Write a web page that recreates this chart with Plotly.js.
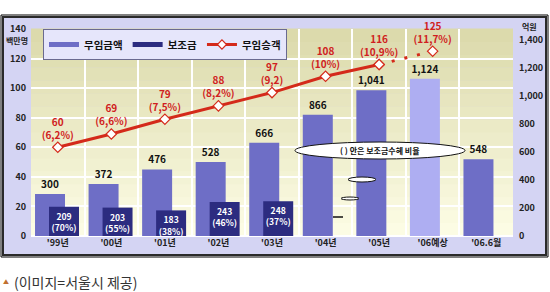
<!DOCTYPE html>
<html>
<head>
<meta charset="utf-8">
<script src="https://cdn.plot.ly/plotly-3.0.1.min.js"></script>
<style>
html,body{margin:0;padding:0;background:#fff;}
#chart{width:550px;height:292px;}
</style>
</head>
<body>
<div id="chart"></div>
<script>
// ---- data ----
const categories = ["'99년", "'00년", "'01년", "'02년", "'03년", "'04년", "'05년", "'06예상", "'06.6월"];
const fareAmount = [300, 372, 476, 528, 666, 866, 1041, 1124, 548];            // 무임금액 (억원)
const fareLabels = ["300", "372", "476", "528", "666", "866", "1,041", "1,124", "548"];
const subsidyCats = ["'99년", "'00년", "'01년", "'02년", "'03년"];
const subsidy = [209, 203, 183, 243, 248];                                     // 보조금 (억원)
const subsidyRatio = ["70%", "55%", "38%", "46%", "37%"];
const passengers = [60, 69, 79, 88, 97, 108, 116, 125];                        // 무임승객 (백만명)
const passengerShare = ["6,2%", "6,6%", "7,5%", "8,2%", "9,2", "10%", "10,9%", "11,7%"];
const leftTicks = [0, 20, 40, 60, 80, 100, 120, 140];
const rightTicks = [0, 200, 400, 600, 800, 1000, 1200, 1400];

// ---- pixel helpers (layout geometry only) ----
const W = 550, H = 292, ML = 31, MR = 37, MT = 29, MB = 56;
const PW = W - ML - MR, PH = H - MT - MB;
const xp = px => (px - ML) / PW;
const yp = py => (H - MB - py) / PH;

const FONT = '"Noto Sans CJK KR", "Liberation Sans", sans-serif';

const nSolid = 7;
const solidCats = categories.slice(0, nSolid);
const solidVals = passengers.slice(0, nSolid);
const solidText = solidVals.map((v, i) => v + '<br>(' + passengerShare[i] + ')');
const dashCats = categories.slice(nSolid - 1, passengers.length);
const dashVals = passengers.slice(nSolid - 1);
const dashText = dashVals.map((v, i) => i === 0 ? '' : v + '<br>(' + passengerShare[nSolid - 1 + i] + ')');

const LIGHT = '#6e6ec6', LIGHT2 = '#aeaef2', DARK = '#2c2c80', RED = '#d42a1a';
const lightColors = categories.map(c => c === "'06예상" ? LIGHT2 : LIGHT);

const traces = [
  {
    type: 'bar', name: '무임금액', x: categories, y: fareAmount, yaxis: 'y2', showlegend: false,
    width: 0.56, offset: -0.425,
    marker: {color: lightColors, line: {width: 0}},
    text: fareLabels, textposition: 'outside', cliponaxis: false,
    textfont: {family: FONT, size: 10, color: '#111', weight: 'bold'},
    hoverinfo: 'skip'
  },
  {
    type: 'bar', name: '보조금', x: subsidyCats, y: subsidy, yaxis: 'y2', showlegend: false,
    width: 0.56, offset: -0.164,
    marker: {color: DARK, line: {width: 0}},
    text: subsidy.map((v, i) => v + '<br>(' + subsidyRatio[i] + ')'),
    textposition: 'inside', insidetextanchor: 'end', constraintext: 'none', textangle: 0,
    textfont: {family: FONT, size: 8.6, color: '#ffffff', weight: 'bold'},
    hoverinfo: 'skip'
  },
  {
    type: 'scatter', name: '무임승객 예상', x: dashCats, y: dashVals, yaxis: 'y', showlegend: false,
    mode: 'lines+markers+text',
    line: {color: RED, width: 3, dash: '3px,10px'},
    marker: {symbol: 'diamond', size: 8, color: '#ffffff', line: {color: RED, width: 1.2}},
    text: dashText, textposition: 'top center', cliponaxis: false,
    textfont: {family: FONT, size: 10, color: '#d02020', weight: 'bold'},
    hoverinfo: 'skip'
  },
  {
    type: 'scatter', name: '무임승객', x: solidCats, y: solidVals, yaxis: 'y', showlegend: false,
    mode: 'lines+markers+text',
    line: {color: RED, width: 3},
    marker: {symbol: 'diamond', size: 8, color: '#ffffff', line: {color: RED, width: 1.2}},
    text: solidText, textposition: 'top center', cliponaxis: false,
    textfont: {family: FONT, size: 10, color: '#d02020', weight: 'bold'},
    hoverinfo: 'skip'
  },
  // legend-only entries (bar-style swatches as in the reference)
  {type: 'scatter', name: '무임금액', x: [null], y: [null], mode: 'lines', line: {color: LIGHT, width: 5}, hoverinfo: 'skip'},
  {type: 'scatter', name: '보조금', x: [null], y: [null], mode: 'lines', line: {color: DARK, width: 5}, hoverinfo: 'skip'},
  {type: 'scatter', name: '무임승객', x: [null], y: [null], mode: 'lines+markers', line: {color: RED, width: 3},
   marker: {symbol: 'diamond', size: 7, color: '#ffffff', line: {color: RED, width: 1.2}}, hoverinfo: 'skip'}
];

// ---- background shapes ----
const shapes = [];
shapes.push({type: 'rect', xref: 'paper', yref: 'paper', layer: 'below',
  x0: xp(1), x1: xp(548), y0: yp(257), y1: yp(15),
  line: {color: '#000', width: 1}, fillcolor: 'rgba(0,0,0,0)'});
shapes.push({type: 'rect', xref: 'paper', yref: 'paper', layer: 'below',
  x0: xp(3), x1: xp(546), y0: yp(255), y1: yp(17),
  line: {color: '#2a2a2a', width: 2}, fillcolor: '#d4d4f3'});
const N = 16;
const c0 = [252, 252, 228], c1 = [220, 218, 172];
for (let i = 0; i < N; i++) {
  const t = i / (N - 1);
  const c = c0.map((a, k) => Math.round(a + (c1[k] - a) * t));
  shapes.push({type: 'rect', xref: 'paper', yref: 'paper', layer: 'below',
    x0: 0, x1: 1, y0: i / N, y1: (i + 1) / N + 0.002,
    line: {width: 0}, fillcolor: 'rgb(' + c.join(',') + ')'});
}
shapes.push({type: 'circle', xref: 'paper', yref: 'paper', layer: 'above',
  x0: xp(295), x1: xp(465), y0: yp(159), y1: yp(142),
  line: {color: '#111', width: 1}, fillcolor: '#ffffff'});
shapes.push({type: 'circle', xref: 'paper', yref: 'paper', layer: 'above',
  x0: xp(348), x1: xp(376), y0: yp(182), y1: yp(177),
  line: {color: '#111', width: 1}, fillcolor: '#ffffff'});
shapes.push({type: 'circle', xref: 'paper', yref: 'paper', layer: 'above',
  x0: xp(341), x1: xp(359), y0: yp(200), y1: yp(197),
  line: {color: '#111', width: 1}, fillcolor: '#ffffff'});
shapes.push({type: 'line', xref: 'paper', yref: 'paper', layer: 'above',
  x0: xp(333), x1: xp(343), y0: yp(217), y1: yp(217),
  line: {color: '#111', width: 1.5}});

const ann = (x, y, text, font, xanchor) => ({xref: 'paper', yref: 'paper', x: xp(x), y: yp(y), text: text,
  showarrow: false, xanchor: xanchor || 'center', yanchor: 'middle', font: font});
const annotations = [
  ann(17, 40, '백만명', {family: FONT, size: 8, color: '#222', weight: 'bold'}),
  ann(529, 27, '억원', {family: FONT, size: 8, color: '#222', weight: 'bold'}),
  ann(380, 150.5, '( ) 안은 보조금수혜 비율', {family: FONT, size: 8, color: '#111', weight: 'bold'}),
  ann(12, 281.5, '(이미지=서울시 제공)', {family: FONT, size: 14, color: '#333'}, 'left'),
  ann(6, 281, '▲', {family: FONT, size: 6, color: '#c07030'})
];

const tickFont = {family: FONT, size: 9, color: '#222', weight: 'bold'};

const layout = {
  width: W, height: H,
  margin: {l: ML, r: MR, t: MT, b: MB, pad: 0},
  paper_bgcolor: '#ffffff', plot_bgcolor: 'rgba(0,0,0,0)',
  barmode: 'overlay',
  showlegend: true,
  legend: {orientation: 'h', x: xp(43), y: 1.0, xanchor: 'left', yanchor: 'top',
    bgcolor: '#e6e6fb', bordercolor: '#6a6a90', borderwidth: 1,
    font: {family: FONT, size: 10.5, color: '#111', weight: 'bold'},
    itemwidth: 30, tracegroupgap: 0},
  xaxis: {type: 'category', categoryorder: 'array', categoryarray: categories,
    tickson: 'boundaries', ticks: '', showgrid: true, gridcolor: '#ffffff', gridwidth: 2,
    showline: false, zeroline: false, tickfont: tickFont, range: [-0.5, 8.5], fixedrange: true},
  yaxis: {range: [0, 140], tickvals: leftTicks, showgrid: true, gridcolor: '#ffffff', gridwidth: 2,
    zeroline: true, zerolinecolor: '#ffffff', zerolinewidth: 2,
    showline: false, ticks: '', tickfont: tickFont, ticklabelstandoff: 4, fixedrange: true},
  yaxis2: {overlaying: 'y', side: 'right', range: [0, 1479], tickvals: rightTicks, tickformat: ',',
    showgrid: false, zeroline: false, showline: false, ticks: '', tickfont: tickFont,
    ticklabelstandoff: 5, fixedrange: true},
  shapes: shapes,
  annotations: annotations,
  font: {family: FONT}
};

Plotly.newPlot('chart', traces, layout, {staticPlot: true, displayModeBar: false});
</script>
</body>
</html>
